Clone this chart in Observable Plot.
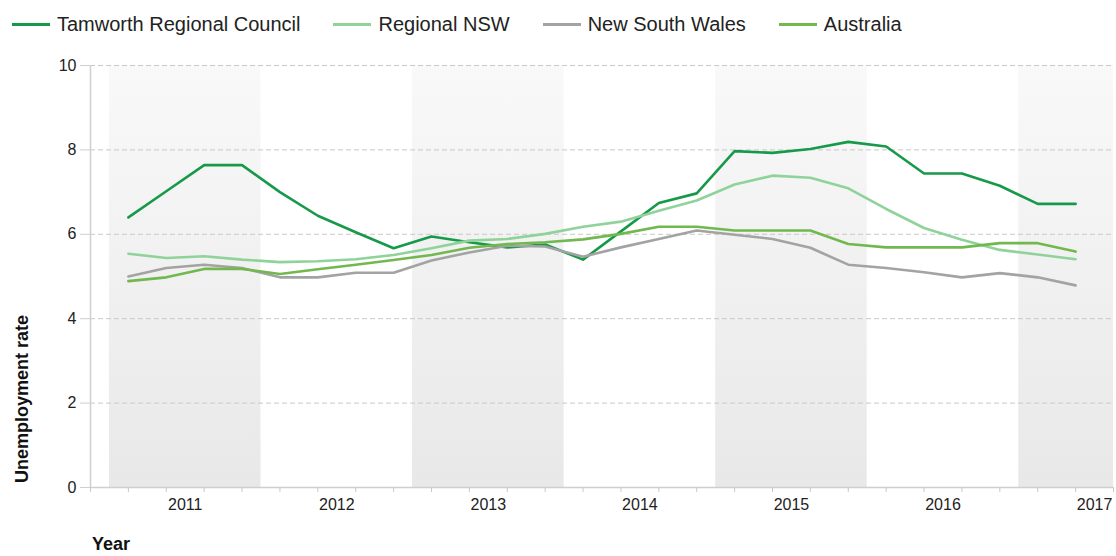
<!DOCTYPE html>
<html><head><meta charset="utf-8">
<script src="https://cdn.jsdelivr.net/npm/d3@7"></script>
<script src="https://cdn.jsdelivr.net/npm/@observablehq/plot@0.6"></script>
<style>
body{margin:0;background:#fff;font-family:"Liberation Sans",Arial,sans-serif;}
#legend{height:48px;display:flex;align-items:center;padding-left:12px;font-size:20px;color:#222;}
.item{display:flex;align-items:center;margin-right:33px;}
.swatch{width:38px;height:3px;margin-right:7px;}
#chart svg{display:block;}
</style></head><body>
<div id="legend"></div><div id="chart"></div>
<script>
const years = [2011, 2012, 2013, 2014, 2015, 2016, 2017];
const quarters = ["Mar 2011","Jun 2011","Sep 2011","Dec 2011","Mar 2012","Jun 2012","Sep 2012","Dec 2012",
  "Mar 2013","Jun 2013","Sep 2013","Dec 2013","Mar 2014","Jun 2014","Sep 2014","Dec 2014",
  "Mar 2015","Jun 2015","Sep 2015","Dec 2015","Mar 2016","Jun 2016","Sep 2016","Dec 2016",
  "Mar 2017","Jun 2017"];
const tamworth = [6.40, 7.02, 7.64, 7.64, 7.00, 6.44, 6.05, 5.67, 5.95, 5.81, 5.69, 5.76, 5.40, 6.07, 6.74, 6.97, 7.97, 7.93, 8.02, 8.19, 8.08, 7.44, 7.44, 7.15, 6.72, 6.72];
const regionalNSW = [5.54, 5.44, 5.48, 5.40, 5.34, 5.36, 5.41, 5.51, 5.67, 5.85, 5.89, 6.01, 6.18, 6.30, 6.56, 6.80, 7.18, 7.39, 7.34, 7.09, 6.60, 6.15, 5.87, 5.63, 5.52, 5.41];
const newSouthWales = [5.00, 5.20, 5.28, 5.20, 4.98, 4.98, 5.09, 5.09, 5.38, 5.57, 5.73, 5.71, 5.47, 5.69, 5.89, 6.09, 5.99, 5.89, 5.68, 5.28, 5.20, 5.10, 4.98, 5.08, 4.98, 4.79];
const australia = [4.89, 4.98, 5.18, 5.18, 5.06, 5.17, 5.28, 5.39, 5.51, 5.68, 5.77, 5.81, 5.88, 6.01, 6.18, 6.18, 6.09, 6.09, 6.09, 5.77, 5.69, 5.69, 5.69, 5.79, 5.79, 5.59];
const seriesNames = ["Tamworth Regional Council", "Regional NSW", "New South Wales", "Australia"];
const seriesColors = ["#17994a", "#8fd39a", "#a3a3a3", "#71b84f"];
const yTicks = [0, 2, 4, 6, 8, 10];

const seriesValues = [tamworth, regionalNSW, newSouthWales, australia];
const data = [];
seriesNames.forEach((name, s) => {
  seriesValues[s].forEach((v, i) => data.push({series: name, quarter: quarters[i], pos: i + 1, value: v}));
});
const nSlots = quarters.length + 1;
const yearLabels = years.map((y, k) => ({year: y, pos: k * 4 + 2.5}));
const bands = years.filter((y, k) => k % 2 === 0).map(y => {
  const k = years.indexOf(y);
  return {x1: k * 4 + 0.5, x2: Math.min(k * 4 + 4.5, nSlots)};
});

// legend
const legend = d3.select("#legend");
seriesNames.forEach((n, i) => {
  const it = legend.append("div").attr("class", "item");
  it.append("div").attr("class", "swatch").style("background", seriesColors[i]);
  it.append("span").text(n);
});

const plot = Plot.plot({
  width: 1116,
  height: 508,
  marginTop: 17,
  marginBottom: 69,
  marginLeft: 90,
  marginRight: 3,
  style: {fontFamily: '"Liberation Sans", Arial, sans-serif', fontSize: "16px", color: "#222", background: "#fff"},
  x: {type: "linear", domain: [0, nSlots]},
  y: {domain: [0, 10]},
  color: {domain: seriesNames, range: seriesColors},
  marks: [
    Plot.rect(bands, {x1: "x1", x2: "x2", y1: 0, y2: 10, fill: "url(#bandGrad)"}),
    Plot.gridY(yTicks.filter(d => d > 0), {stroke: "#c8c8c8", strokeOpacity: 1, strokeDasharray: "5,3"}),
    Plot.ruleY([0], {stroke: "#cfcfcf", strokeWidth: 1.5}),
    Plot.ruleX([0], {y1: 0, y2: 10, stroke: "#cfcfcf", strokeWidth: 1.5}),
    Plot.axisY(yTicks, {tickSize: 10, tickPadding: 4, stroke: "#cfcfcf", label: null, fontSize: 16}),
    Plot.axisX(d3.range(0, nSlots + 1), {tickSize: 5, stroke: "#c8c8c8", tickFormat: () => "", label: null}),
    Plot.axisX(yearLabels.map(d => d.pos), {tickSize: 0, tickPadding: 11, tickFormat: p => String(yearLabels.find(d => d.pos === p).year), label: null, fontSize: 16}),
    Plot.line(data, {x: "pos", y: "value", z: "series", stroke: "series", strokeWidth: 2.6})
  ]
});
document.getElementById("chart").appendChild(plot);

const svg = d3.select(plot);
const grad = svg.insert("defs", ":first-child").append("linearGradient")
  .attr("id", "bandGrad").attr("x1", 0).attr("y1", 0).attr("x2", 0).attr("y2", 1);
grad.append("stop").attr("offset", "0%").attr("stop-color", "#f9f9f9");
grad.append("stop").attr("offset", "100%").attr("stop-color", "#e8e8e8");

svg.append("text").attr("transform", "translate(28,435) rotate(-90)")
  .attr("text-anchor", "start")
  .attr("font-size", 18).attr("font-weight", "bold").attr("fill", "#111")
  .text("Unemployment rate");
svg.append("text").attr("x", 92).attr("y", 502)
  .attr("text-anchor", "start")
  .attr("font-size", 18).attr("font-weight", "bold").attr("fill", "#111")
  .text("Year");
</script>
</body></html>
